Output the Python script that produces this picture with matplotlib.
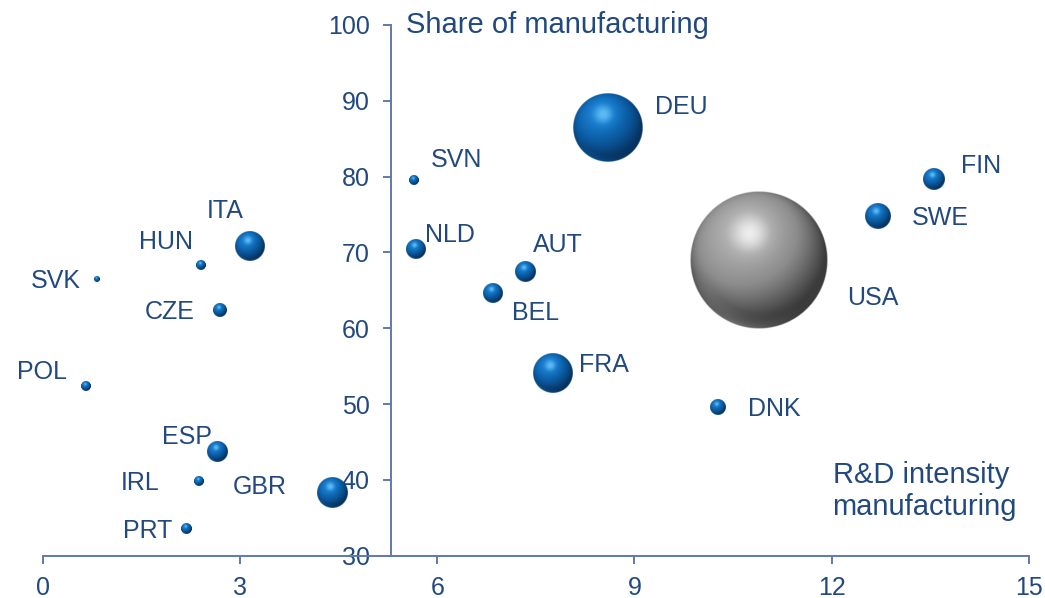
"""
R&D intensity vs. share of manufacturing, bubble chart with shaded spheres
"""

import matplotlib
matplotlib.use("Agg")
import matplotlib.pyplot as plt
import numpy as np
from matplotlib.colors import LinearSegmentedColormap

plt.rcParams["font.family"] = ["Liberation Sans", "DejaVu Sans"]

# ============================================================
# Data
# ============================================================

countries = ["DEU", "USA", "FIN", "SWE", "DNK", "SVN", "NLD", "AUT", "BEL", "FRA",
             "ITA", "HUN", "SVK", "CZE", "POL", "ESP", "IRL", "GBR", "PRT"]
rd_intensity = [8.59, 10.90, 13.56, 12.70, 10.27, 5.64, 5.67, 7.34, 6.84, 7.75,
                3.15, 2.40, 0.81, 2.69, 0.65, 2.65, 2.37, 4.41, 2.18]
manuf_share = [86.5, 69.0, 79.7, 74.8, 49.6, 79.5, 70.5, 67.4, 64.6, 54.0,
               70.8, 68.3, 66.5, 62.4, 52.3, 43.7, 39.8, 38.3, 33.5]
# relative bubble size (area), USA = 100
bubble_size = [25.0, 100.0, 2.4, 3.4, 1.3, 0.43, 2.1, 2.2, 1.9, 8.2,
               4.7, 0.48, 0.15, 0.97, 0.48, 2.3, 0.46, 5.0, 0.53]

x_ticks = [0, 3, 6, 9, 12, 15]
y_ticks = [30, 40, 50, 60, 70, 80, 90, 100]

# ============================================================
# Layout / style
# ============================================================

W, H = 1045, 598
TEXT = "#22497F"
AXIS = "#6079AD"
R_MAX = 69          # radius in px of the largest bubble
Y_AXIS_AT = 5.3

# label offsets in pixels (dx, dy of cap centre, upward positive), alignment
label_pos = {
    "DEU": (48, 22, "left"), "USA": (88, -36, "left"), "FIN": (27, 15, "left"),
    "SWE": (34, 0, "left"), "DNK": (30, 0, "left"), "SVN": (17, 22, "left"),
    "NLD": (9, 16, "left"), "AUT": (8, 29, "left"), "BEL": (20, -18, "left"),
    "FRA": (27, 11, "left"), "ITA": (-43, 37, "left"), "HUN": (-8, 25, "right"),
    "SVK": (-15, 0, "right"), "CZE": (-25, 0, "right"), "POL": (-19, 17, "right"),
    "ESP": (-5, 17, "right"), "IRL": (-39, 0, "right"), "GBR": (-46, 8, "right"),
    "PRT": (-14, 0, "right"),
}

blue_cmap = LinearSegmentedColormap.from_list(
    "blue", [(0, "#062a52"), (0.45, "#0b5ea6"), (0.72, "#1b7fcf"), (1, "#5cbaf3")])
gray_cmap = LinearSegmentedColormap.from_list(
    "gray", [(0, "#2a2a2a"), (0.45, "#8c8c8c"), (0.72, "#b0b0b0"), (1, "#f4f4f4")])


def sphere_image(cmap, spec_w, n=256):
    """Shaded sphere as RGBA array"""
    t = np.linspace(-1, 1, n)
    u, v = np.meshgrid(t, -t)
    d2 = u ** 2 + v ** 2
    d = np.sqrt(d2)
    nz = np.sqrt(np.clip(1 - d2, 0, 1))
    L = np.array([-0.25, 0.45, 0.85])
    L = L / np.linalg.norm(L)
    diff = np.clip(u * L[0] + v * L[1] + nz * L[2], 0, 1)
    spec = np.exp(-((u + 0.12) ** 2 + (v - 0.38) ** 2) / (2 * 0.2 ** 2))
    rim = np.clip((d - 0.78) / 0.22, 0, 1) * np.clip(-v - 0.2, 0, 1) * np.clip(0.6 - u, 0, 1)
    shade = 0.08 + 0.62 * diff ** 1.3 + spec_w * spec + 0.35 * rim
    rgba = cmap(np.clip(shade, 0, 1))
    rgba[..., 3] = np.clip((1 - d) * n / 2.5, 0, 1)
    return rgba


# ============================================================
# Figure
# ============================================================

fig = plt.figure(figsize=(W / 100, H / 100), dpi=100)
ax = fig.add_axes([43 / W, 1 - 555.6 / H, (1028.7 - 43) / W, (555.6 - 25) / H])
ax.set_xlim(0, 15)
ax.set_ylim(30, 100)

pos = ax.get_position()
px_per_x = pos.width * W / 15
px_per_y = pos.height * H / 70

blue_img = sphere_image(blue_cmap, 0.32)
gray_img = sphere_image(gray_cmap, 0.28)

for name, x, y, s in zip(countries, rd_intensity, manuf_share, bubble_size):
    r = R_MAX * np.sqrt(s / max(bubble_size))
    dx, dy = r / px_per_x, r / px_per_y
    img = gray_img if name == "USA" else blue_img
    ax.imshow(img, extent=[x - dx, x + dx, y - dy, y + dy], aspect="auto",
              interpolation="bilinear", zorder=3, clip_on=False)

    ox, oy, ha = label_pos[name]
    ax.annotate(name, (x, y), xytext=(ox, oy - 9), textcoords="offset pixels",
                ha=ha, va="baseline", fontsize=18, color=TEXT, zorder=4)

ax.set_xlim(0, 15)
ax.set_ylim(30, 100)

# axes
for side in ["top", "right"]:
    ax.spines[side].set_visible(False)
ax.spines["left"].set_position(("data", Y_AXIS_AT))
for side in ["left", "bottom"]:
    ax.spines[side].set_color(AXIS)
    ax.spines[side].set_linewidth(1.4)

ax.set_xticks(x_ticks)
ax.set_yticks(y_ticks)
ax.tick_params(axis="both", direction="out", length=5.5, width=1.4, color=AXIS,
               labelcolor=TEXT, labelsize=18)
ax.tick_params(axis="x", pad=9)
ax.tick_params(axis="y", pad=10)

# axis titles
fig.text(406 / W, 1 - 33 / H, "Share of manufacturing", fontsize=21, color=TEXT, va="baseline")
fig.text(833 / W, 1 - 483 / H, "R&D intensity", fontsize=21, color=TEXT, va="baseline")
fig.text(832 / W, 1 - 515 / H, "manufacturing", fontsize=21, color=TEXT, va="baseline")

fig.savefig("out.png", dpi=100)
